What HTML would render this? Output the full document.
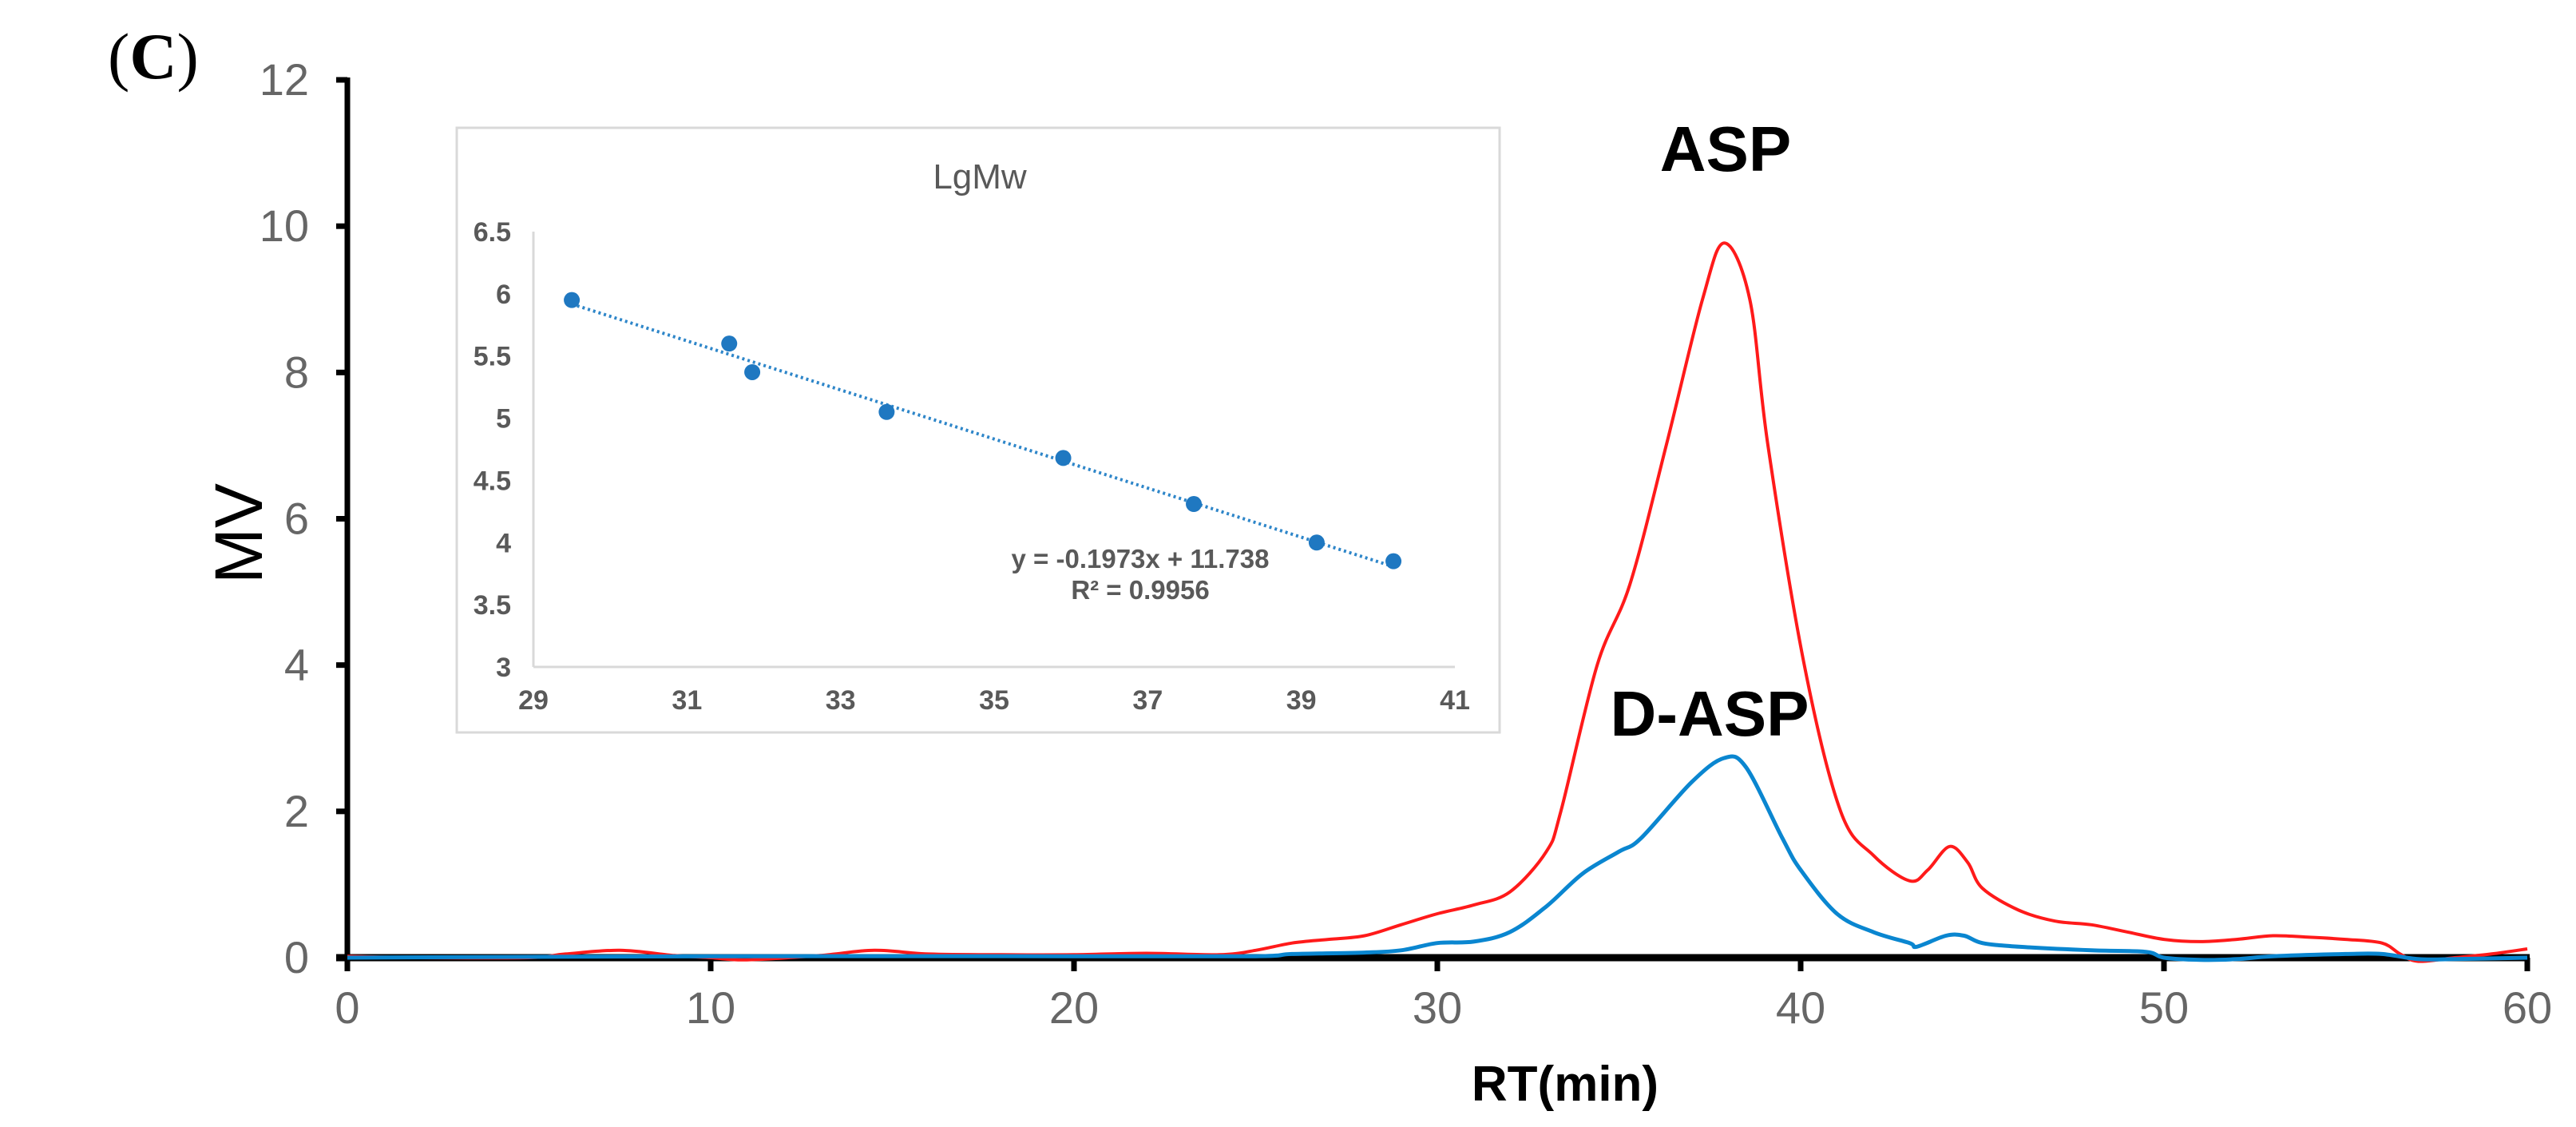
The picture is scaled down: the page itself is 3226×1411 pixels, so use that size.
<!DOCTYPE html>
<html><head><meta charset="utf-8">
<style>
html,body{margin:0;padding:0;background:#fff;}
svg{display:block;}
.tk{font-family:"Liberation Sans Narrow","Liberation Sans",sans-serif;fill:#666;}
.itk{font-family:"Liberation Sans Narrow","Liberation Sans",sans-serif;fill:#595959;font-weight:bold;}
</style></head>
<body>
<svg id="chart" width="3226" height="1411" viewBox="0 0 3226 1411" xmlns="http://www.w3.org/2000/svg">
<rect width="3226" height="1411" fill="#fff"/>
<text x="135" y="98" font-family="Liberation Serif, serif" font-size="82"><tspan>(</tspan><tspan font-weight="bold">C</tspan><tspan>)</tspan></text>
<g id="main"></g>
<g id="inset"></g>
</svg>
<script>
// ===== main chart data =====
const xTicks = [0,10,20,30,40,50,60];
const yTicks = [0,2,4,6,8,10,12];
const aspX = [0,2,5,6,7.5,9,10,11,13,14.5,16,18,20,22,24,25,26,27,28,29,30,31,32,33,33.4,34.4,35.3,36.3,37.3,37.9,38.6,39.1,40.1,41.1,42,43,43.5,44.1,44.6,45,46,47,48,49,50,51,52,53,54,55,56,56.5,57,58,59,60];
const aspY = [0.02,0,0,0.05,0.1,0.03,0,-0.03,0.03,0.1,0.05,0.04,0.04,0.06,0.04,0.1,0.2,0.25,0.3,0.45,0.6,0.72,0.9,1.45,2,4,5.1,7,9,9.77,9,7,4,2,1.4,1.05,1.2,1.52,1.3,0.95,0.65,0.5,0.45,0.35,0.25,0.22,0.25,0.3,0.28,0.25,0.2,0.05,-0.05,0,0.05,0.12];
const daspX = [0,10,20,25,26,28,29,30,31,32,33,34,35,35.6,37,37.9,38.5,39.5,40,41,42,43,43.2,44,44.5,45,46,48,49.5,50,51,52,53,55,56,57,58,60];
const daspY = [0,0.02,0.02,0.02,0.05,0.07,0.1,0.2,0.22,0.35,0.7,1.15,1.45,1.63,2.4,2.73,2.6,1.63,1.2,0.6,0.35,0.2,0.15,0.3,0.3,0.2,0.15,0.1,0.08,0,-0.03,-0.02,0.02,0.05,0.05,-0.02,-0.02,0];
// ===== inset data =====
const insetXTicks = [29,31,33,35,37,39,41];
const insetYTicks = [3,3.5,4,4.5,5,5.5,6,6.5];
const insetYLabels = ["3","3.5","4","4.5","5","5.5","6","6.5"];
const calX = [29.5,31.55,31.85,33.6,35.9,37.6,39.2,40.2];
const calY = [5.95,5.6,5.37,5.05,4.68,4.31,4.0,3.85];
const fitSlope = [-0.1973];
const fitIntercept = [11.738];

const NS="http://www.w3.org/2000/svg";
function mk(tag,attrs,parent,txt){const e=document.createElementNS(NS,tag);for(const k in attrs)e.setAttribute(k,attrs[k]);if(txt!==undefined)e.textContent=txt;parent.appendChild(e);return e;}

const X0=435,X1=3165,Y0=1199,Y1=100;
const sx=v=>X0+(v-0)/60*(X1-X0);
const sy=v=>Y0-(v-0)/12*(Y0-Y1);
const main=document.getElementById('main');

yTicks.forEach(t=>{
  const tk=mk('line',{x1:X0-14,x2:X0,y1:sy(t),y2:sy(t),stroke:'#000','stroke-width':7},main);
  
  
  const l=mk('text',{x:X0-48,y:sy(t)+19,'text-anchor':'end','font-size':56,class:'tk'},main,String(t));
  
  
});
xTicks.forEach(t=>{
  const tk=mk('line',{x1:sx(t),x2:sx(t),y1:Y0,y2:Y0+17,stroke:'#000','stroke-width':7},main);
  
  
  const l=mk('text',{x:sx(t),y:1281,'text-anchor':'middle','font-size':56,class:'tk'},main,String(t));
  
  
});
const ya=mk('line',{x1:X0,x2:X0,y1:Y1-3,y2:Y0+17,stroke:'#000','stroke-width':7},main);


const xa=mk('line',{x1:X0-14,x2:X1+3,y1:Y0,y2:Y0,stroke:'#000','stroke-width':9},main);



function smooth(xs,ys,fx,fy){
  const p=xs.map((v,i)=>[fx(v),fy(ys[i])]);
  let d='M'+p[0][0].toFixed(1)+','+p[0][1].toFixed(1);
  for(let i=0;i<p.length-1;i++){
    const p0=p[Math.max(0,i-1)],p1=p[i],p2=p[i+1],p3=p[Math.min(p.length-1,i+2)];
    const c1x=p1[0]+(p2[0]-p0[0])/6,c1y=p1[1]+(p2[1]-p0[1])/6;
    const c2x=p2[0]-(p3[0]-p1[0])/6,c2y=p2[1]-(p3[1]-p1[1])/6;
    d+=' C'+c1x.toFixed(1)+','+c1y.toFixed(1)+' '+c2x.toFixed(1)+','+c2y.toFixed(1)+' '+p2[0].toFixed(1)+','+p2[1].toFixed(1);
  }
  return d;
}
const red=mk('path',{d:smooth(aspX,aspY,sx,sy),fill:'none',stroke:'#ff1a1a','stroke-width':4,'stroke-linejoin':'round'},main);


const blue=mk('path',{d:smooth(daspX,daspY,sx,sy),fill:'none',stroke:'#0a86d0','stroke-width':5,'stroke-linejoin':'round'},main);



let t;
t=mk('text',{x:1960,y:1378,'text-anchor':'middle','font-size':62,'font-weight':'bold','font-family':'Liberation Sans Narrow, Liberation Sans, sans-serif'},main,'RT(min)');


t=mk('text',{x:0,y:0,'text-anchor':'middle','font-size':84,'font-family':'Liberation Sans, sans-serif',transform:'translate(328,668) rotate(-90)'},main,'MV');


t=mk('text',{x:2161,y:214,'text-anchor':'middle','font-size':80,'font-weight':'bold','font-family':'Liberation Sans, sans-serif'},main,'ASP');


t=mk('text',{x:2141,y:921,'text-anchor':'middle','font-size':80,'font-weight':'bold','font-family':'Liberation Sans, sans-serif'},main,'D-ASP');



// ===== inset =====
const ins=document.getElementById('inset');
const box=mk('rect',{x:572,y:160,width:1306,height:757,fill:'#fff',stroke:'#d9d9d9','stroke-width':3},ins);


const IX0=668,IX1=1822,IY0=835,IY1=290;
const ix=v=>IX0+(v-29)/12*(IX1-IX0);
const iy=v=>IY0-(v-3)/3.5*(IY0-IY1);
t=mk('text',{x:1227,y:236,'text-anchor':'middle','font-size':44,fill:'#595959','font-family':'Liberation Sans Narrow, Liberation Sans, sans-serif'},ins,'LgMw');


const iya=mk('line',{x1:IX0,x2:IX0,y1:IY1,y2:IY0,stroke:'#d9d9d9','stroke-width':3},ins);


const ixa=mk('line',{x1:IX0,x2:IX1,y1:IY0,y2:IY0,stroke:'#d9d9d9','stroke-width':3},ins);


insetYTicks.forEach((v,i)=>{
  const l=mk('text',{x:640,y:iy(v)+12,'text-anchor':'end','font-size':34,class:'itk'},ins,insetYLabels[i]);
  
  
});
insetXTicks.forEach(v=>{
  const l=mk('text',{x:ix(v),y:888,'text-anchor':'middle','font-size':34,class:'itk'},ins,String(v));
  
  
});
const fx0=calX[0],fx1=calX[calX.length-1];
const fit=mk('line',{x1:ix(fx0),y1:iy(fitSlope[0]*fx0+fitIntercept[0]),x2:ix(fx1),y2:iy(fitSlope[0]*fx1+fitIntercept[0]),stroke:'#2e86c9','stroke-width':4,'stroke-dasharray':'3,4'},ins);


calX.forEach((v,i)=>{
  const c=mk('circle',{cx:ix(v),cy:iy(calY[i]),r:10,fill:'#1f78c1'},ins);
  
  
});
t=mk('text',{x:1428,y:711,'text-anchor':'middle','font-size':33,class:'itk'},ins,'y = -0.1973x + 11.738');


t=mk('text',{x:1428,y:750,'text-anchor':'middle','font-size':33,class:'itk'},ins,'R² = 0.9956');


</script>
</body></html>
